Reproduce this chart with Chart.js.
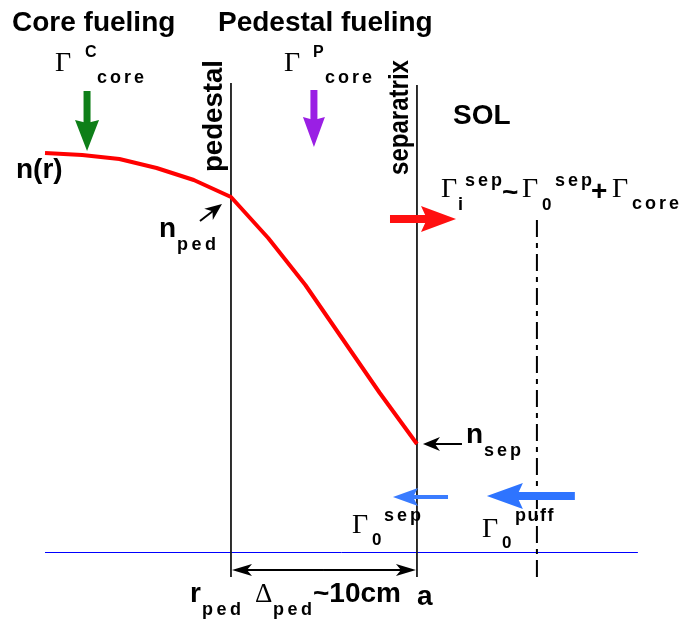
<!DOCTYPE html>
<html>
<head>
<meta charset="utf-8">
<script src="https://cdn.jsdelivr.net/npm/chart.js@4.4.1/dist/chart.umd.min.js"></script>
<style>
  html, body { margin: 0; padding: 0; background: #fff; }
  #wrap { width: 687px; height: 622px; }
</style>
</head>
<body>
<div id="wrap"><canvas id="profile" width="687" height="622"></canvas></div>
<script>
// minor radius measured from the separatrix (cm) and edge density (arb. units)
const radius  = [-20, -18, -16, -14, -12, -10, -8, -6, -4, -2, 0];
const density = [3.99, 3.97, 3.93, 3.84, 3.72, 3.55, 3.14, 2.67, 2.13, 1.59, 1.08];

const rPed = -10;      // pedestal top, r_ped
const rSep = 0;        // separatrix, r = a
const rPuff = 6.45;    // gas puff location in the SOL

// vertical extent of the marker lines (density units), zero line extent (cm)
const pedestalSpan = [4.69, -0.25];
const separatrixSpan = [4.67, -0.25];
const puffSpan = [3.32, -0.25];
const zeroSpan = [-20, 11.88];

// particle fluxes: [r from, n from, r to, n to]
const coreFlux  = [-17.74, 4.61, -17.74, 4.01];
const pedFlux   = [-5.54, 4.62, -5.54, 4.05];
const ionFlux   = [-1.45, 3.33, 2.10, 3.33];
const neutFlux  = [1.67, 0.55, -1.29, 0.55];
const puffFlux  = [8.49, 0.56, 3.76, 0.56];
const widthBar  = -0.18;   // density level of the pedestal width marker

const SANS = '"Liberation Sans", Arial, sans-serif';
const SERIF = '"Liberation Serif", "Times New Roman", serif';

function txt(ctx, s, x, y, font, spacing) {
  ctx.font = font;
  if (!spacing) { ctx.fillText(s, x, y); return; }
  for (const ch of s) {
    ctx.fillText(ch, x, y);
    x += ctx.measureText(ch).width + spacing;
  }
}

// text rotated to read bottom-to-top, squeezed/stretched to a given length
function vtxt(ctx, s, x, y, font, len) {
  ctx.save();
  ctx.font = font;
  ctx.translate(x, y);
  ctx.rotate(-Math.PI / 2);
  const w = ctx.measureText(s).width;
  ctx.scale(len / w, 1);
  ctx.fillText(s, 0, 0);
  ctx.restore();
}

function head(ctx, x, y, ang, len, half, notch) {
  ctx.save();
  ctx.translate(x, y);
  ctx.rotate(ang);
  ctx.beginPath();
  ctx.moveTo(0, 0);
  ctx.lineTo(-len, -half);
  ctx.lineTo(-len + notch, 0);
  ctx.lineTo(-len, half);
  ctx.closePath();
  ctx.fill();
  ctx.restore();
}

function arrow(ctx, x1, y1, x2, y2, o) {
  const ang = Math.atan2(y2 - y1, x2 - x1);
  const back = o.len - o.notch - 1;
  ctx.strokeStyle = o.color;
  ctx.fillStyle = o.color;
  ctx.lineWidth = o.width;
  ctx.lineCap = 'butt';
  ctx.beginPath();
  ctx.moveTo(x1, y1);
  ctx.lineTo(x2 - Math.cos(ang) * back, y2 - Math.sin(ang) * back);
  ctx.stroke();
  head(ctx, x2, y2, ang, o.len, o.half, o.notch);
}

const annotate = {
  id: 'annotate',
  afterDatasetsDraw(chart) {
    const ctx = chart.ctx;
    const X = v => chart.scales.x.getPixelForValue(v);
    const Y = v => chart.scales.y.getPixelForValue(v);
    const flux = (f, o) => arrow(ctx, X(f[0]), Y(f[1]), X(f[2]), Y(f[3]), o);

    ctx.save();
    ctx.textBaseline = 'alphabetic';

    // fuelling and flux arrows
    flux(coreFlux, { color: '#0e7f18', width: 7, len: 31, half: 12, notch: 3 });
    flux(pedFlux,  { color: '#9a1fe4', width: 7, len: 30, half: 11, notch: 3 });
    flux(ionFlux,  { color: '#ff1010', width: 8, len: 35, half: 13, notch: 6 });
    flux(neutFlux, { color: '#3a7cff', width: 4, len: 25, half: 9, notch: 5 });
    flux(puffFlux, { color: '#2e74ff', width: 8, len: 36, half: 13, notch: 6 });

    // pointers to n_ped and n_sep
    const pedX = X(rPed), pedY = Y(density[radius.indexOf(rPed)]);
    const sepX = X(rSep), sepY = Y(density[radius.indexOf(rSep)]);
    const thin = { color: '#000', width: 2, len: 17, half: 7, notch: 5 };
    arrow(ctx, pedX - 31, pedY + 24, pedX - 9, pedY + 7, thin);
    arrow(ctx, sepX + 45, sepY, sepX + 6, sepY, thin);

    // pedestal width marker
    const dim = { color: '#000', width: 2, len: 20, half: 6, notch: 5 };
    const mid = (X(rPed) + X(rSep)) / 2;
    arrow(ctx, mid, Y(widthBar), X(rPed) + 1, Y(widthBar), dim);
    arrow(ctx, mid, Y(widthBar), X(rSep) - 1, Y(widthBar), dim);

    ctx.fillStyle = '#000';
    const big = 'bold 28px ' + SANS;
    const sub = 'bold 18px ' + SANS;
    const gam = '28px ' + SERIF;

    txt(ctx, 'Core fueling', 12, 31, big);
    txt(ctx, 'Pedestal fueling', 218, 31, big);

    txt(ctx, 'Γ', 55, 71, gam);
    txt(ctx, 'C', 85, 57, 'bold 16px ' + SANS);
    txt(ctx, 'core', 97, 83, sub, 3);
    txt(ctx, 'Γ', 284, 71, gam);
    txt(ctx, 'P', 313, 57, 'bold 16px ' + SANS);
    txt(ctx, 'core', 325, 83, sub, 3);

    vtxt(ctx, 'pedestal', X(rPed) - 9, 172, big, 112);
    vtxt(ctx, 'separatrix', X(rSep) - 9, 175, big, 115);

    txt(ctx, 'SOL', 453, 124, 'bold 28px ' + SANS);
    txt(ctx, 'n(r)', 16, 178, big);

    txt(ctx, 'n', 159, 237, big);
    txt(ctx, 'ped', 177, 250, sub, 3.5);
    txt(ctx, 'n', 466, 443, big);
    txt(ctx, 'sep', 484, 456, sub, 3);

    // Γ_i^sep ~ Γ_0^sep + Γ_core
    txt(ctx, 'Γ', 441, 197, gam);
    txt(ctx, 'sep', 465, 186, sub, 3);
    txt(ctx, 'i', 458, 210, sub);
    txt(ctx, '~', 502, 201, 'bold 28px ' + SANS);
    txt(ctx, 'Γ', 522, 197, gam);
    txt(ctx, '0', 542, 210, 'bold 17px ' + SANS);
    txt(ctx, 'sep', 555, 186, sub, 3);
    txt(ctx, '+', 591, 200, 'bold 28px ' + SANS);
    txt(ctx, 'Γ', 612, 197, gam);
    txt(ctx, 'core', 632, 209, sub, 3);

    txt(ctx, 'Γ', 352, 533, gam);
    txt(ctx, '0', 372, 545, 'bold 17px ' + SANS);
    txt(ctx, 'sep', 384, 521, sub, 3);
    txt(ctx, 'Γ', 482, 537, gam);
    txt(ctx, '0', 502, 548, 'bold 17px ' + SANS);
    txt(ctx, 'puff', 515, 521, sub, 1.5);

    txt(ctx, 'r', 190, 602, big);
    txt(ctx, 'ped', 202, 615, sub, 3.5);
    txt(ctx, 'Δ', 255, 602, '27px ' + SERIF);
    txt(ctx, 'ped', 273, 615, sub, 3.5);
    txt(ctx, '~10cm', 313, 602, big);
    txt(ctx, 'a', 417, 605, big);

    ctx.restore();
  }
};

const vline = (r, span) => [{ x: r, y: span[0] }, { x: r, y: span[1] }];

new Chart(document.getElementById('profile'), {
  type: 'scatter',
  data: {
    datasets: [
      {
        label: 'n(r)',
        data: radius.map((r, i) => ({ x: r, y: density[i] })),
        showLine: true, borderColor: '#ff0000', borderWidth: 4,
        borderJoinStyle: 'round', pointRadius: 0, tension: 0
      },
      {
        label: 'pedestal',
        data: vline(rPed, pedestalSpan),
        showLine: true, borderColor: '#1a1a1a', borderWidth: 1.8, pointRadius: 0
      },
      {
        label: 'separatrix',
        data: vline(rSep, separatrixSpan),
        showLine: true, borderColor: '#1a1a1a', borderWidth: 1.8, pointRadius: 0
      },
      {
        label: 'puff',
        data: vline(rPuff, puffSpan),
        showLine: true, borderColor: '#000', borderWidth: 2,
        borderDash: [17, 6, 5, 6], pointRadius: 0
      },
      {
        label: 'zero',
        data: zeroSpan.map(r => ({ x: r, y: -0.005 })),
        showLine: true, borderColor: '#0000ff', borderWidth: 1, pointRadius: 0
      }
    ]
  },
  options: {
    responsive: false,
    animation: false,
    events: [],
    layout: { padding: 0 },
    plugins: { legend: { display: false }, tooltip: { enabled: false }, title: { display: false } },
    scales: {
      x: { type: 'linear', display: false, min: -22.42, max: 14.52 },
      y: { type: 'linear', display: false, min: -0.70, max: 5.52 }
    }
  },
  plugins: [annotate]
});
</script>
</body>
</html>
